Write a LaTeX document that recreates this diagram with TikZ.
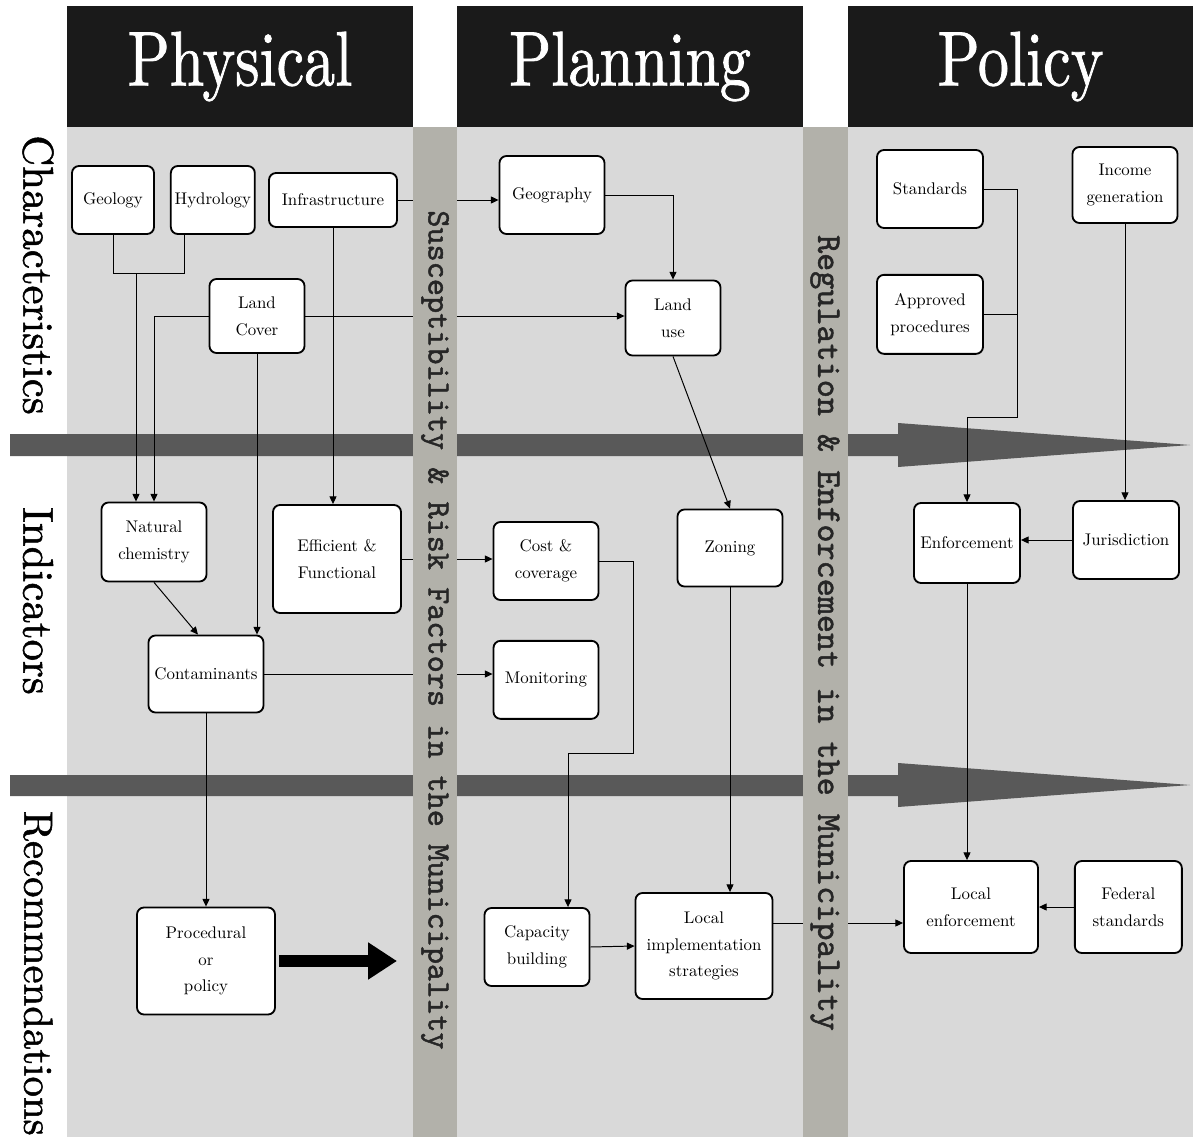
\documentclass[tikz,border=0pt]{standalone}
\usepackage{fontspec}
\setmainfont{lmroman10-regular.otf}
\newfontfamily\headfont{lmroman10-regular.otf}[FakeBold=1, FakeStretch=0.8]
\newfontfamily\rowfont{lmroman10-regular.otf}[FakeBold=1.2]
\newfontfamily\stripfont{lmmono10-regular.otf}[FakeBold=1.4]
\usepackage{tikz}
\usetikzlibrary{arrows.meta,positioning,backgrounds}
\definecolor{lanegray}{RGB}{217,217,217}
\definecolor{stripgray}{RGB}{178,177,170}
\definecolor{banddark}{RGB}{89,89,89}
\definecolor{headblack}{RGB}{26,26,26}

\begin{document}
\begin{tikzpicture}[
    x=0.025cm, y=-0.025cm,
    box/.style={rectangle, draw, fill=white, rounded corners=5pt, line width=1.3pt, align=center, inner sep=2pt, font=\fontsize{12}{19}\selectfont},
    sz/.style 2 args={minimum width=#1*0.025cm, minimum height=#2*0.025cm},
    lanehead/.style={rectangle, fill=headblack, text=white, minimum height=121*0.025cm, font=\headfont\fontsize{55}{60}\selectfont},
    rowlab/.style={rotate=-90, font=\rowfont\fontsize{30.5}{32}\selectfont},
    striplab/.style={rotate=-90, text=black!85, font=\stripfont\fontsize{23.2}{25}\selectfont},
    arrow/.style={-{Triangle[length=5.5pt,width=5pt]}, line width=0.7pt},
    link/.style={line width=0.7pt},
    bigarrow/.style={-{Triangle[length=20.5pt,width=25pt]}, line width=8.5pt}
]
    \useasboundingbox (0,0) rectangle (1193,1137);

    % Column headers
    \node[lanehead, minimum width=346*0.025cm] (hphys) at (240,66.5) {Physical};
    \node[lanehead, minimum width=346*0.025cm] (hplan) at (630,66.5) {Planning};
    \node[lanehead, minimum width=345*0.025cm] (hpol) at (1020.5,66.5) {Policy};

    % Row labels
    \node[rowlab] (rchar) at (38,275) {Characteristics};
    \node[rowlab] (rind) at (38,601) {Indicators};
    \node[rowlab, anchor=west, font=\rowfont\fontsize{29}{31}\selectfont] (rrec) at (38,806) {Recommendations};

    % Physical
    \node[box, sz={82}{68}] (geol) at (113,200) {Geology};
    \node[box, sz={84}{68}, right=0.375cm of geol] (hydro) {Hydrology};
    \node[box, sz={128}{54}] (infra) at (333,200) {Infrastructure};
    \node[box, sz={95}{74}] (landcov) at (257,316) {Land\\Cover};
    \node[box, sz={105}{79}] (natchem) at (154,542) {Natural\\chemistry};
    \node[box, sz={128}{108}] (effic) at (337,559) {Efficient \&\\Functional};
    \node[box, sz={115}{77}] (contam) at (206,674) {Contaminants};
    \node[box, sz={138}{107}] (proc) at (206,961) {Procedural\\or\\policy};
    \coordinate (bigtip) at (397,961);

    % Planning
    \node[box, sz={105}{78}] (geog) at (552,195) {Geography};
    \node[box, sz={95}{75}] (landuse) at (673,318) {Land\\use};
    \node[box, sz={105}{78}] (cost) at (546,561) {Cost \&\\coverage};
    \node[box, sz={105}{78}, below=0.975cm of cost.south, anchor=north] (monit) {Monitoring};
    \node[box, sz={105}{77}] (zoning) at (730,548) {Zoning};
    \node[box, sz={105}{78}] (capac) at (537,947) {Capacity\\building};
    \node[box, sz={137}{106}] (localimp) at (704,946) {Local\\implementation\\strategies};

    % Policy
    \node[box, sz={106}{78}] (stand) at (930,189) {Standards};
    \node[box, sz={106}{79}, below=1.125cm of stand] (approv) {Approved\\procedures};
    \node[box, sz={105}{76}] (income) at (1125,185) {Income\\generation};
    \node[box, sz={106}{80}] (enforce) at (967,543) {Enforcement};
    \node[box, sz={106}{78}] (jurisd) at (1126,540) {Jurisdiction};
    \node[box, sz={134}{92}] (localenf) at (971,907) {Local\\enforcement};
    \node[box, sz={107}{92}, right=0.875cm of localenf] (federal) {Federal\\standards};

    % Lanes and bands
    \begin{scope}[on background layer]
        \fill[lanegray] (67,127) rectangle (413,1137);
        \fill[lanegray] (457,127) rectangle (803,1137);
        \fill[lanegray] (848,127) rectangle (1193,1137);
        \fill[banddark] (10,434) -- (898,434) -- (898,423) -- (1190,445) -- (898,467) -- (898,456) -- (10,456) -- cycle;
        \fill[banddark] (10,775) -- (898,775) -- (898,763) -- (1190,785) -- (898,807) -- (898,796) -- (10,796) -- cycle;
    \end{scope}

    % Physical links
    \coordinate (gh) at (136,273);
    \draw[link] (geol.south) |- ([xshift=-0.7cm]hydro.south |- gh) -- ([xshift=-0.7cm]hydro.south);
    \draw[arrow] (gh) -- (gh |- natchem.north);
    \draw[arrow] (landcov.west) -| (natchem.north);
    \draw[arrow] (landcov.south) -- (landcov.south |- contam.north);
    \draw[arrow] (infra.south) -- (infra.south |- effic.north);
    \draw[arrow] (natchem.south) -- ([xshift=-0.2cm]contam.north);
    \draw[arrow] (contam.south) -- (proc.north);
    \draw[bigarrow] ([xshift=0.08cm]proc.east) -- (bigtip);

    % Across to planning
    \draw[arrow] (infra.east) -- (infra.east -| geog.west);
    \draw[arrow] (landcov.east) -- (landcov.east -| landuse.west);
    \draw[arrow] (effic.east) -- (effic.east -| cost.west);
    \draw[arrow] (contam.east) -- (contam.east -| monit.west);

    % Planning links
    \coordinate (cc) at (633,753);
    \draw[arrow] (geog.east) -| (landuse.north);
    \draw[arrow] (landuse.south) -- (zoning.north);
    \draw[arrow] (cost.east) -| (cc) -| ([xshift=0.775cm]capac.north);
    \draw[arrow] (zoning.south) -- (zoning.south |- localimp.north);
    \draw[arrow] (capac.east) -- (localimp.west);
    \draw[arrow] ([yshift=0.575cm]localimp.east) -- ([yshift=0.575cm]localimp.east -| localenf.west);

    % Policy links
    \coordinate (sa) at (1017,417);
    \draw[arrow] (stand.east) -| (sa) -| (enforce.north);
    \draw[link] (approv.east) -- (approv.east -| sa);
    \draw[arrow] (income.south) -- (income.south |- jurisd.north);
    \draw[arrow] (jurisd.west) -- (jurisd.west -| enforce.east);
    \draw[arrow] (enforce.south) -- (enforce.south |- localenf.north);
    \draw[arrow] (federal.west) -- (federal.west -| localenf.east);

    % Strips on top
    \fill[stripgray] (413,127) rectangle (457,1137);
    \fill[stripgray] (803,127) rectangle (848,1137);
    \node[striplab] (ssus) at (435,630) {Susceptibility \& Risk Factors in the Municipality};
    \node[striplab, font=\stripfont\fontsize{24.5}{26}\selectfont] (sreg) at (825,633) {Regulation \& Enforcement in the Municipality};
\end{tikzpicture}
\end{document}
